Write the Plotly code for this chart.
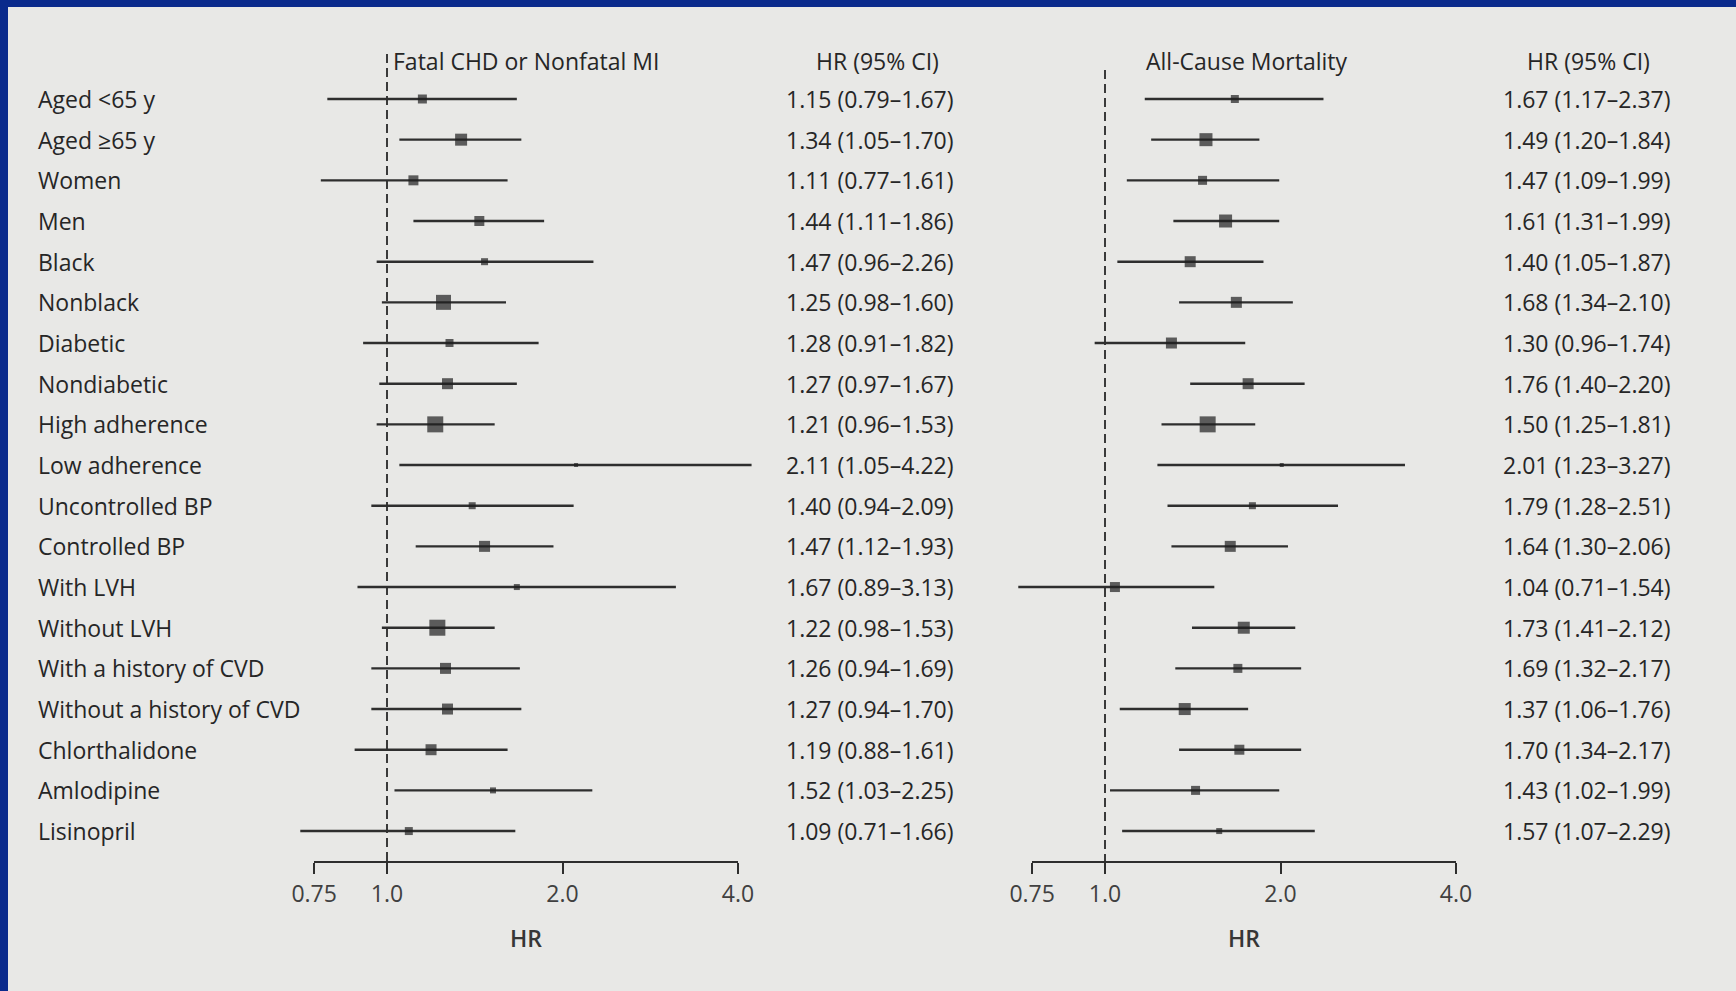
import math
import plotly.graph_objects as go

# ---------------------------------------------------------------- data
subgroups = [
    "Aged <65 y", "Aged ≥65 y", "Women", "Men", "Black", "Nonblack",
    "Diabetic", "Nondiabetic", "High adherence", "Low adherence",
    "Uncontrolled BP", "Controlled BP", "With LVH", "Without LVH",
    "With a history of CVD", "Without a history of CVD",
    "Chlorthalidone", "Amlodipine", "Lisinopril",
]

# Fatal CHD or nonfatal MI: hazard ratio with 95% CI
chd_hr = [1.15, 1.34, 1.11, 1.44, 1.47, 1.25, 1.28, 1.27, 1.21, 2.11,
          1.40, 1.47, 1.67, 1.22, 1.26, 1.27, 1.19, 1.52, 1.09]
chd_lo = [0.79, 1.05, 0.77, 1.11, 0.96, 0.98, 0.91, 0.97, 0.96, 1.05,
          0.94, 1.12, 0.89, 0.98, 0.94, 0.94, 0.88, 1.03, 0.71]
chd_hi = [1.67, 1.70, 1.61, 1.86, 2.26, 1.60, 1.82, 1.67, 1.53, 4.22,
          2.09, 1.93, 3.13, 1.53, 1.69, 1.70, 1.61, 2.25, 1.66]
chd_weight = [9, 12, 10, 10, 7, 15, 8, 11, 16, 4,
              7, 11, 6, 16, 11, 11, 11, 6, 8]

# All-cause mortality: hazard ratio with 95% CI
mort_hr = [1.67, 1.49, 1.47, 1.61, 1.40, 1.68, 1.30, 1.76, 1.50, 2.01,
           1.79, 1.64, 1.04, 1.73, 1.69, 1.37, 1.70, 1.43, 1.57]
mort_lo = [1.17, 1.20, 1.09, 1.31, 1.05, 1.34, 0.96, 1.40, 1.25, 1.23,
           1.28, 1.30, 0.71, 1.41, 1.32, 1.06, 1.34, 1.02, 1.07]
mort_hi = [2.37, 1.84, 1.99, 1.99, 1.87, 2.10, 1.74, 2.20, 1.81, 3.27,
           2.51, 2.06, 1.54, 2.12, 2.17, 1.76, 2.17, 1.99, 2.29]
mort_weight = [8, 13, 9, 13, 11, 11, 11, 11, 16, 4,
               7, 11, 10, 12, 9, 12, 10, 9, 6]

tick_vals = [0.75, 1.0, 2.0, 4.0]
tick_text = ["0.75", "1.0", "2.0", "4.0"]
REF_HR = 1.0

# ---------------------------------------------------------------- layout constants (pixels)
W, H = 1736, 991
FONT = "Open Sans"
FS = 23
FW = 500
INK = "#262626"
LINE_INK = "#2e2e2e"
PAPER = "#e8e8e6"
BLUE = "#0a2a8c"

ROW0_PX = 99.0          # centre of first row
ROW_STEP_PX = 40.67     # row pitch
AXIS_LINE_PX = 862      # y of the HR axis line
PX_PER_LOG2 = 175.5

panels = [
    dict(anchor=387, x="x", ax="xaxis", over="xaxis3", overref="x3", dash_top=54,
         title="Fatal CHD or Nonfatal MI", title_x=526, col_x=870, col_head_x=878,
         hr=chd_hr, lo=chd_lo, hi=chd_hi, w=chd_weight),
    dict(anchor=1105, x="x2", ax="xaxis2", over="xaxis4", overref="x4", dash_top=70,
         title="All-Cause Mortality", title_x=1246, col_x=1587, col_head_x=1588,
         hr=mort_hr, lo=mort_lo, hi=mort_hi, w=mort_weight),
]


def px_of(anchor, v):
    return anchor + PX_PER_LOG2 * math.log2(v)


def log_range_for(anchor, px0, px1):
    """Log10 axis range that places HR=1 at pixel `anchor` over [px0, px1]."""
    return [math.log10(2 ** ((px0 - anchor) / PX_PER_LOG2)),
            math.log10(2 ** ((px1 - anchor) / PX_PER_LOG2))]


def py(px_from_top):
    return 1 - px_from_top / H


def row_of(px_from_top):
    return (px_from_top - ROW0_PX) / ROW_STEP_PX


def txt_font(color=INK, weight=FW):
    return dict(family=FONT, size=FS, color=color, weight=weight)


rows = list(range(len(subgroups)))

fig = go.Figure()
layout = dict(
    width=W, height=H,
    margin=dict(l=0, r=0, t=0, b=0, pad=0, autoexpand=False),
    paper_bgcolor=PAPER, plot_bgcolor="rgba(0,0,0,0)",
    showlegend=False,
    font=txt_font(),
    yaxis=dict(domain=[0, 1],
               range=[row_of(H), row_of(0)],
               visible=False, fixedrange=True),
)

annotations = []
shapes = []

for p in panels:
    data_px0, data_px1 = p["anchor"] - 140, p["anchor"] + 420
    layout[p["ax"]] = dict(
        type="log", domain=[data_px0 / W, data_px1 / W],
        range=log_range_for(p["anchor"], data_px0, data_px1),
        anchor="y", showline=False, showticklabels=False, ticks="",
        showgrid=False, zeroline=False, fixedrange=True,
    )
    ax_px0 = px_of(p["anchor"], tick_vals[0])
    ax_px1 = px_of(p["anchor"], tick_vals[-1])
    layout[p["over"]] = dict(
        type="log", domain=[ax_px0 / W, ax_px1 / W],
        range=[math.log10(tick_vals[0]), math.log10(tick_vals[-1])],
        anchor="free", position=py(AXIS_LINE_PX), side="bottom",
        automargin=False,
        showline=True, linecolor=LINE_INK, linewidth=2,
        ticks="outside", ticklen=11, tickwidth=2, tickcolor=LINE_INK,
        tickvals=tick_vals, ticktext=tick_text,
        tickfont=txt_font("#404040"),
        showgrid=False, zeroline=False, fixedrange=True,
    )
    # carries the HR scale axis (nothing visible is plotted on it)
    fig.add_trace(go.Scatter(
        x=tick_vals, y=[0] * len(tick_vals), xaxis=p["overref"], yaxis="y",
        mode="markers", marker=dict(opacity=0), hoverinfo="skip",
    ))

    # dashed reference line at HR = 1
    fig.add_trace(go.Scatter(
        x=[REF_HR, REF_HR], y=[row_of(p["dash_top"]), row_of(AXIS_LINE_PX)],
        xaxis=p["x"], yaxis="y", mode="lines",
        line=dict(color="#3a3a3a", width=2, dash="9px,5px"),
        hoverinfo="skip",
    ))

    # confidence intervals
    xs, ys = [], []
    for i in rows:
        xs += [p["lo"][i], p["hi"][i], None]
        ys += [i, i, None]
    fig.add_trace(go.Scatter(
        x=xs, y=ys, xaxis=p["x"], yaxis="y", mode="lines",
        line=dict(color=LINE_INK, width=2.4), hoverinfo="skip",
    ))
    # point estimates, boxes sized by weight
    fig.add_trace(go.Scatter(
        x=p["hr"], y=rows, xaxis=p["x"], yaxis="y", mode="markers",
        marker=dict(symbol="square", size=p["w"], color="#1f1f1f",
                    line=dict(width=0)),
        text=subgroups, hovertemplate="%{text}: %{x:.2f}<extra></extra>",
        cliponaxis=False,
    ))

    # panel header + HR column
    annotations.append(dict(
        text=p["title"], xref="paper", yref="paper",
        x=p["title_x"] / W, y=py(61), xanchor="center", yanchor="middle",
        showarrow=False, font=txt_font(),
    ))
    annotations.append(dict(
        text="HR (95% CI)", xref="paper", yref="paper",
        x=p["col_head_x"] / W, y=py(61), xanchor="center", yanchor="middle",
        showarrow=False, font=txt_font(),
    ))
    for i in rows:
        annotations.append(dict(
            text=f"{p['hr'][i]:.2f} ({p['lo'][i]:.2f}–{p['hi'][i]:.2f})",
            xref="paper", yref="y", x=p["col_x"] / W, y=i,
            xanchor="center", yanchor="middle", showarrow=False,
            font=txt_font(),
        ))
    # axis title
    annotations.append(dict(
        text="HR", xref="paper", yref="paper",
        x=(ax_px0 + ax_px1) / 2 / W, y=py(938), xanchor="center",
        yanchor="middle", showarrow=False,
        font=txt_font("#363636", 600),
    ))

# subgroup labels
for i in rows:
    annotations.append(dict(
        text=subgroups[i], xref="paper", yref="y", x=36 / W, y=i,
        xanchor="left", yanchor="middle", showarrow=False,
        font=txt_font(),
    ))

# blue slide frame along the top and left edges
shapes.append(dict(type="rect", xref="paper", yref="paper", x0=0, x1=1,
                   y0=py(7), y1=1, fillcolor=BLUE, line=dict(width=0)))
shapes.append(dict(type="rect", xref="paper", yref="paper", x0=0, x1=8 / W,
                   y0=0, y1=1, fillcolor=BLUE, line=dict(width=0)))

layout["annotations"] = annotations
layout["shapes"] = shapes
fig.update_layout(**layout)

fig.write_html("out.html")
